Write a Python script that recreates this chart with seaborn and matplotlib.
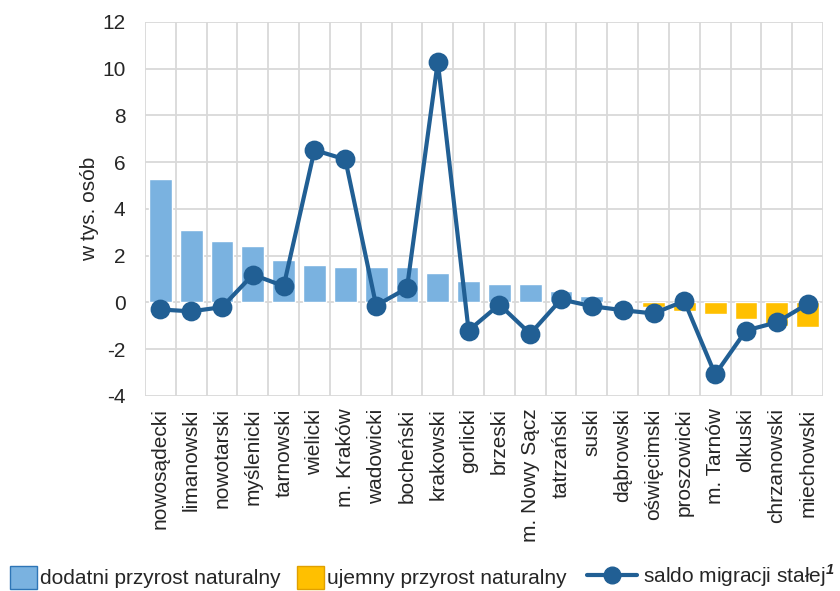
import numpy as np
import pandas as pd
import matplotlib
matplotlib.use("Agg")
import matplotlib.pyplot as plt
import seaborn as sns
from matplotlib.patches import Patch
from matplotlib.lines import Line2D
from matplotlib.ticker import FixedLocator

categories = ["nowosądecki", "limanowski", "nowotarski", "myślenicki", "tarnowski",
              "wielicki", "m. Kraków", "wadowicki", "bocheński", "krakowski",
              "gorlicki", "brzeski", "m. Nowy Sącz", "tatrzański", "suski",
              "dąbrowski", "oświęcimski", "proszowicki", "m. Tarnów", "olkuski",
              "chrzanowski", "miechowski"]
natural_growth = [5.3, 3.1, 2.63, 2.4, 1.8, 1.59, 1.53, 1.5, 1.5, 1.27,
                  0.91, 0.8, 0.77, 0.47, 0.26, 0.08, -0.2, -0.36, -0.48, -0.69,
                  -0.99, -1.04]
migration = [-0.3, -0.38, -0.2, 1.19, 0.7, 6.52, 6.12, -0.13, 0.61, 10.3,
             -1.2, -0.09, -1.34, 0.13, -0.16, -0.33, -0.47, 0.06, -3.08, -1.2,
             -0.85, -0.06]
legend_labels = ["dodatni przyrost naturalny", "ujemny przyrost naturalny",
                 "saldo migracji stałej$^{\\mathbf{1}}$"]
y_label = "w tys. osób"
y_ticks = [-4, -2, 0, 2, 4, 6, 8, 10, 12]

BLUE = "#7AB2E0"
YELLOW = "#FFC000"
LINE = "#215F94"
GRID = "#D9D9D9"
FS = 15

sns.set_style("white")
plt.rcParams["font.family"] = ["Liberation Sans", "DejaVu Sans"]
plt.rcParams["mathtext.fontset"] = "custom"
plt.rcParams["mathtext.rm"] = "Liberation Sans"
plt.rcParams["mathtext.bf"] = "Liberation Sans:bold:italic"

df = pd.DataFrame({"cat": categories, "nat": natural_growth, "mig": migration})
df["sign"] = np.where(df["nat"] >= 0, "pos", "neg")

fig = plt.figure(figsize=(8.4, 5.91), dpi=100)
ax = fig.add_axes([0.1726, 0.330, 0.8072, 0.6328])

sns.barplot(data=df, x="cat", y="nat", hue="sign", palette={"pos": BLUE, "neg": YELLOW},
            dodge=False, width=0.74, legend=False, ax=ax, zorder=2, saturation=1)
sns.pointplot(data=df, x="cat", y="mig", color=LINE, markers="o", markersize=12,
              linewidth=3, errorbar=None, ax=ax, zorder=3)

ax.set_xlim(-0.5, len(categories) - 0.5)
ax.set_ylim(-4, 12)
ax.set_yticks(y_ticks)
ax.set_yticklabels([str(v) for v in y_ticks])
ax.xaxis.set_minor_locator(FixedLocator(np.arange(-0.5, len(categories), 1.0)))
ax.set_xticks(range(len(categories)))
ax.set_xticklabels(categories, rotation=90, fontsize=FS, va="top", ha="center")

for s in ax.spines.values():
    s.set_visible(False)
ax.grid(False)
ax.yaxis.grid(True, which="major", color=GRID, linewidth=1.3, zorder=0)
ax.xaxis.grid(True, which="minor", color=GRID, linewidth=1.3, zorder=0)
ax.set_axisbelow(True)
ax.tick_params(axis="y", which="major", length=6, color=GRID, width=1.3, labelsize=FS, pad=8)
ax.tick_params(axis="x", which="major", length=0, pad=9)
ax.tick_params(axis="x", which="minor", length=8, color=GRID, width=1.3)
ax.set_xlabel("")
ax.set_ylabel(y_label, fontsize=FS, labelpad=2)

patch_handles = [
    Patch(facecolor=BLUE, edgecolor="#2E75B6", linewidth=1.0),
    Patch(facecolor=YELLOW, edgecolor="#E0A000", linewidth=1.0),
]
leg1 = fig.legend(patch_handles, legend_labels[:2], loc="lower left",
                  bbox_to_anchor=(-0.011, -0.028), ncol=2, frameon=False, fontsize=FS,
                  handlelength=1.3, handleheight=1.3, handletextpad=0.15,
                  columnspacing=0.8)
line_handle = [Line2D([0], [0], color=LINE, linewidth=3, marker="o", markersize=12)]
leg2 = fig.legend(line_handle, legend_labels[2:], loc="lower left",
                  bbox_to_anchor=(0.676, -0.028), frameon=False, fontsize=FS,
                  handlelength=2.4, handletextpad=0.3)

fig.savefig("out.png", dpi=100)
